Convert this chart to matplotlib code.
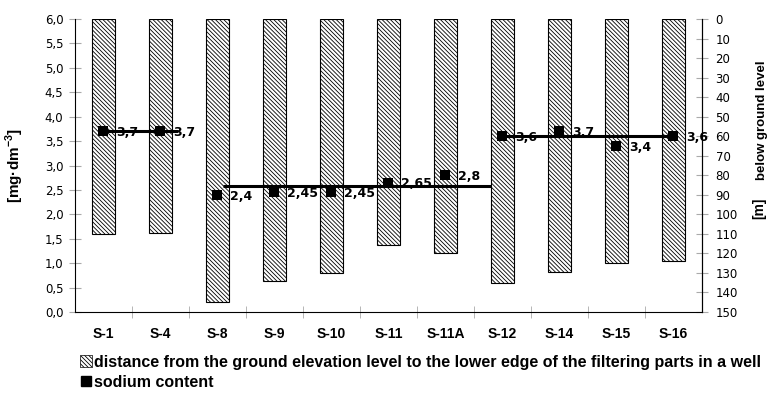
import matplotlib
matplotlib.use("Agg")
import matplotlib.pyplot as plt
from matplotlib.patches import Patch
from matplotlib.lines import Line2D

plt.rcParams['font.family'] = ['Liberation Sans', 'DejaVu Sans']
plt.rcParams['hatch.linewidth'] = 0.6
plt.rcParams['mathtext.fontset'] = 'custom'
plt.rcParams['mathtext.bf'] = 'Liberation Sans:bold'
plt.rcParams['mathtext.rm'] = 'Liberation Sans'

wells = ["S-1", "S-4", "S-8", "S-9", "S-10", "S-11", "S-11A", "S-12", "S-14", "S-15", "S-16"]
depth_m = [110, 109.5, 145, 134, 130, 115.5, 120, 135, 129.5, 125, 124]
sodium = [3.7, 3.7, 2.4, 2.45, 2.45, 2.65, 2.8, 3.6, 3.7, 3.4, 3.6]
sodium_labels = ["3,7", "3,7", "2,4", "2,45", "2,45", "2,65", "2,8", "3,6", "3,7", "3,4", "3,6"]
mean_groups = [(0, 1, 3.7), (2, 6, 2.58), (7, 10, 3.6)]
left_ticks = [0, 0.5, 1, 1.5, 2, 2.5, 3, 3.5, 4, 4.5, 5, 5.5, 6]
right_ticks = list(range(0, 151, 10))

HATCH = "\\" * 8

fig = plt.figure(figsize=(7.69, 4.0), dpi=100)
ax = fig.add_axes([0.0975, 0.22, 0.8153, 0.7325])
ax2 = ax.twinx()

x = list(range(len(wells)))
ax2.bar(x, depth_m, width=0.41, bottom=0, facecolor="white", edgecolor="black",
        hatch=HATCH, linewidth=0.8, zorder=2)
ax2.set_ylim(150, 0)
ax2.set_yticks(right_ticks)
ax2.set_yticklabels([str(t) for t in right_ticks], fontsize=8.5, family="DejaVu Sans")

ax.set_zorder(ax2.get_zorder() + 1)
ax.patch.set_visible(False)
ax.scatter(x, sodium, marker="s", s=52, color="black", zorder=5, linewidths=0)
for xi, v, lab in zip(x, sodium, sodium_labels):
    ax.annotate(lab, (xi, v), xytext=(9, -1), textcoords="offset points",
                ha="left", va="center", fontsize=9, fontweight="bold",
                family="DejaVu Sans", zorder=6)
starts_extra = [0.0, 0.09, 0.0]
ends_extra = [0.3, 0.8, 0.0]
for (i0, i1, m), s_ex, e_ex in zip(mean_groups, starts_extra, ends_extra):
    ax.plot([i0 + s_ex, i1 + e_ex], [m, m], color="black", lw=2.2, zorder=4,
            solid_capstyle="butt")

ax.set_xlim(-0.5, len(wells) - 0.5)
ax.set_ylim(0, 6)
ax.set_yticks(left_ticks)
ax.set_yticklabels([f"{t:.1f}".replace(".", ",") for t in left_ticks], fontsize=8.5,
                   family="DejaVu Sans")
ax.set_xticks(x)
ax.set_xticklabels(wells, fontsize=10, fontweight="bold")
ax.tick_params(axis="x", which="major", length=0, pad=11)
ax.set_xticks([i + 0.5 for i in x[:-1]], minor=True)
ax.tick_params(axis="x", which="minor", length=8, color="#aaaaaa", direction="inout")
ax.tick_params(axis="y", length=8, color="#aaaaaa", direction="inout", pad=4.3)
ax2.tick_params(axis="y", length=8, color="#aaaaaa", direction="inout", pad=5.8)
for a in (ax, ax2):
    a.spines["top"].set_visible(False)
ax2.spines["left"].set_visible(False)
ax2.spines["bottom"].set_visible(False)

ax.set_ylabel("[mg·dm$^{\\mathbf{-3}}$]", fontsize=11, fontweight="bold")
ax.yaxis.set_label_coords(-0.078, 0.5)
fig.text(0.987, 0.48, "[m]", rotation=90, fontsize=10, fontweight="bold",
         ha="center", va="center")
fig.text(0.9915, 0.70, "below ground level", rotation=90, fontsize=9.5, fontweight="bold",
         ha="center", va="center")

handles = [Patch(facecolor="white", edgecolor="black", hatch=HATCH, linewidth=0.5),
           Line2D([], [], marker="s", color="black", ls="none", markersize=7.5)]
fig.legend(handles,
           ["distance from the ground elevation level to the lower edge of the filtering parts in a well",
            "sodium content"],
           loc="upper left", bbox_to_anchor=(0.104, 0.113), frameon=False, handlelength=0.75,
           handleheight=0.75, handletextpad=0.12, labelspacing=0.3, borderaxespad=0,
           borderpad=0, prop={"weight": "bold", "size": 11.5})

fig.savefig("out.png", dpi=100)
